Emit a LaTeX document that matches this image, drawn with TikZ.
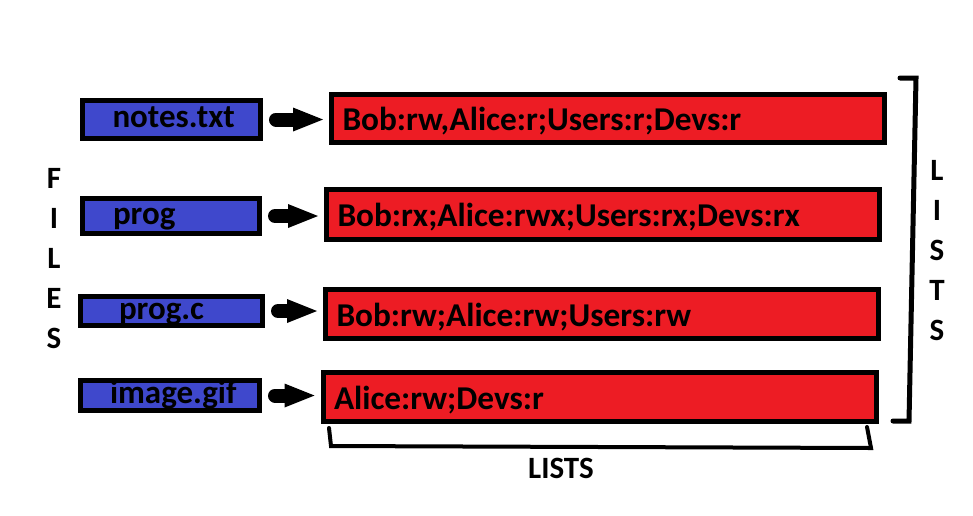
\documentclass[tikz,border=0pt]{standalone}
\usepackage{fontspec}
\setmainfont{Carlito}
\usetikzlibrary{arrows.meta}
\definecolor{fileblue}{RGB}{63,72,204}
\definecolor{listred}{RGB}{237,28,36}

\begin{document}
\begin{tikzpicture}[x=1pt,y=-1pt,
    filebox/.style={draw,line width=5pt,fill=fileblue,inner ysep=0pt,align=left,
      text height=19pt,text depth=3pt,font=\fontsize{33}{33}\selectfont\bfseries},
    listbox/.style={draw,line width=5pt,fill=listred,inner xsep=11pt,inner ysep=0pt,
      text width=531pt,align=left,text height=26pt,text depth=2pt,
      font=\fontsize{33.3}{34}\selectfont\bfseries},
    bigarrow/.style={line width=14pt,line cap=round,
      arrows={-Triangle[length=30pt,width=24pt,line width=0pt]},shorten <=13pt,shorten >=6pt},
    caption/.style={align=center,font=\fontsize{31}{40}\selectfont\bfseries}]
\useasboundingbox (0,0) rectangle (973,515);
% files
\node[filebox,inner xsep=30pt,text width=118pt,minimum height=38pt] (f1) at (171.5,119.5) {notes.txt};
\node[filebox,inner xsep=30.5pt,text width=116pt,minimum height=35pt] (f2) at (171,216) {prog};
\node[filebox,inner xsep=38.5pt,text width=105pt,minimum height=29pt] (f3) at (171.5,311) {prog.c};
\node[filebox,inner xsep=29.5pt,text width=120pt,minimum height=30pt] (f4) at (170,395.5) {image.gif};
% lists
\node[listbox,minimum height=48pt] (l1) at (608,118.5) {Bob:rw,Alice:r;Users:r;Devs:r};
\node[listbox,minimum height=50pt] (l2) at (603,214.5) {Bob:rx;Alice:rwx;Users:rx;Devs:rx};
\node[listbox,minimum height=49pt] (l3) at (602,314) {Bob:rw;Alice:rw;Users:rw};
\node[listbox,minimum height=49pt] (l4) at (599.5,397) {Alice:rw;Devs:r};
% arrows
\foreach \i in {1,...,4}
  \draw[bigarrow] (f\i.east) -- (f\i.east -| l\i.west);
% captions
\node[caption] (files) at (54,259) {F\\I\\L\\E\\S};
\node[caption] (vlists) at (937,251) {L\\I\\S\\T\\S};
\node[caption] (hlists) at (561,468) {LISTS};
% brackets
\draw[line width=5pt,line cap=round] (900,78) -- (916,78) -- (909,421) -- (893,421);
\draw[line width=4pt,line cap=round] (329,428) -- (331,446) -- (871,448) -- (867,427);
\end{tikzpicture}
\end{document}
